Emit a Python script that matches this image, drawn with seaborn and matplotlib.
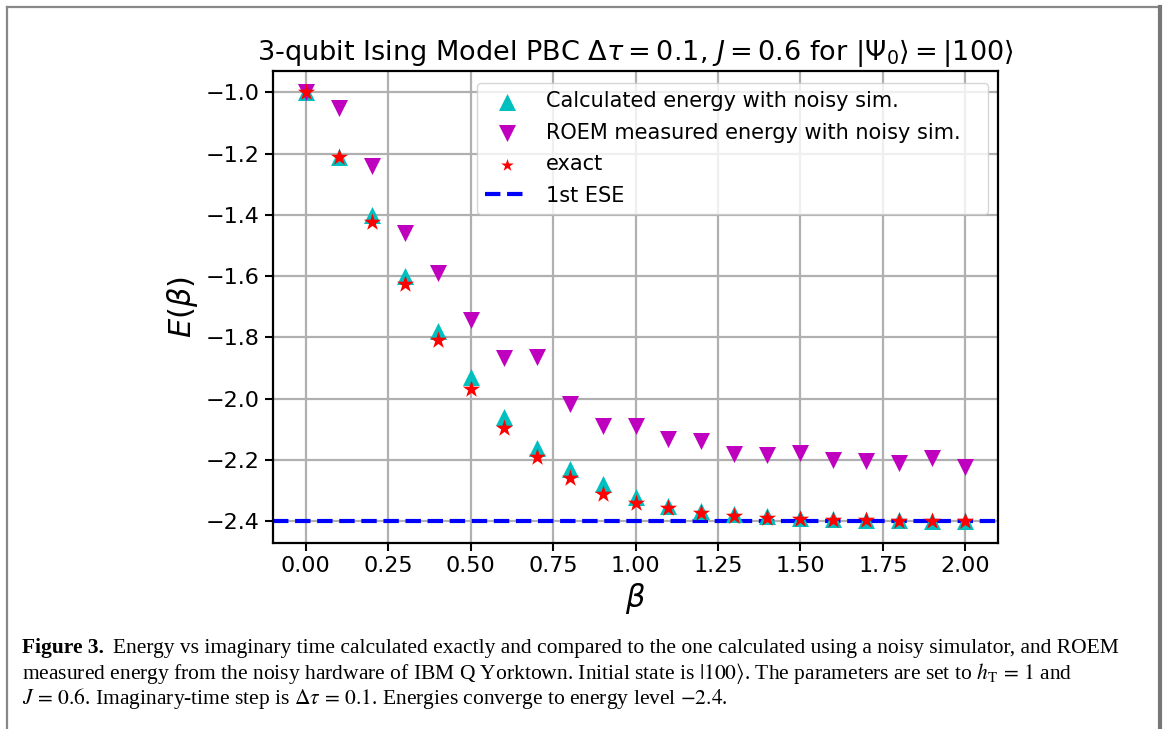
import numpy as np
import pandas as pd
import matplotlib
matplotlib.use("Agg")
import matplotlib.pyplot as plt
import seaborn as sns
from matplotlib.lines import Line2D

# -----------------------
# Data
# -----------------------
beta = [0.0, 0.1, 0.2, 0.3, 0.4, 0.5, 0.6, 0.7, 0.8, 0.9, 1.0,
        1.1, 1.2, 1.3, 1.4, 1.5, 1.6, 1.7, 1.8, 1.9, 2.0]
calc_noisy = [-1.00, -1.21, -1.40, -1.60, -1.78, -1.93, -2.06, -2.16, -2.23, -2.28, -2.32,
              -2.35, -2.365, -2.377, -2.383, -2.39, -2.394, -2.395, -2.397, -2.398, -2.399]
roem = [-1.00, -1.05, -1.24, -1.458, -1.59, -1.744, -1.866, -1.863, -2.018, -2.088, -2.09,
        -2.133, -2.137, -2.18, -2.184, -2.176, -2.20, -2.204, -2.209, -2.194, -2.223]
exact = [-1.00, -1.21, -1.423, -1.624, -1.809, -1.967, -2.097, -2.19, -2.26, -2.31, -2.34,
         -2.358, -2.372, -2.383, -2.388, -2.393, -2.395, -2.397, -2.398, -2.399, -2.399]
ese_level = -2.4

df = pd.DataFrame({"beta": beta, "calc": calc_noisy, "roem": roem, "exact": exact})

# -----------------------
# Figure
# -----------------------
plt.rcParams["font.family"] = ["DejaVu Sans"]
fig = plt.figure(figsize=(11.65, 7.29), dpi=100)
ax = fig.add_axes([0.234, 0.2556, 0.623, 0.647])
ax.set_axisbelow(True)
ax.grid(True, color="#b0b0b0", linewidth=1.6)

sns.scatterplot(data=df, x="beta", y="calc", marker="^", color="c", s=150,
                linewidth=0, label="Calculated energy with noisy sim.", ax=ax, zorder=3)
sns.scatterplot(data=df, x="beta", y="roem", marker="v", color="m", s=150,
                linewidth=0, label="ROEM measured energy with noisy sim.", ax=ax, zorder=3)
sns.scatterplot(data=df, x="beta", y="exact", marker="*", color="r", s=170,
                linewidth=0, label="exact", ax=ax, zorder=4)
ax.axhline(ese_level, color="b", linestyle="--", linewidth=3, label="1st ESE", zorder=2)

ax.set_xlim(-0.1, 2.1)
ax.set_ylim(-2.47, -0.93)
ax.set_xticks(np.arange(0, 2.01, 0.25))
ax.set_yticks(np.arange(-2.4, -0.99, 0.2))
ax.tick_params(labelsize=16, width=1.5, length=6)
for s in ax.spines.values():
    s.set_linewidth(1.6)

ax.set_title(r"3-qubit Ising Model PBC $\Delta\tau = 0.1$, $J = 0.6$ for $|\Psi_0\rangle = |100\rangle$",
             fontsize=19.5, pad=8)
ax.set_xlabel(r"$\beta$", fontsize=22)
ax.set_ylabel(r"$E(\beta)$", fontsize=22)

leg = ax.legend(loc="upper left", bbox_to_anchor=(0.2814, 0.6947, 0.7039, 0.28),
                mode="expand", borderaxespad=0, fontsize=15, labelspacing=0.55,
                handlelength=2.1)
# smaller star in the legend, as in the original
leg.legend_handles[2].set_sizes([90])

# -----------------------
# Page frame + caption
# -----------------------
fig.add_artist(Line2D([7 / 1165, 7 / 1165], [0, 1 - 7 / 729], color="#888888", lw=1.6))
fig.add_artist(Line2D([7 / 1165, 1160 / 1165], [1 - 7 / 729, 1 - 7 / 729], color="#888888", lw=1.6))
fig.add_artist(Line2D([1160 / 1165, 1160 / 1165], [0, 1 - 7 / 729], color="#777777", lw=3))

cap_font = ["Liberation Serif", "DejaVu Serif"]
cap_size = 15.5
x0 = 22 / 1165
t1 = fig.text(x0, 1 - 653 / 729, "Figure 3.", family=cap_font, fontsize=cap_size,
              weight="bold", va="baseline")
fig.canvas.draw()
w1 = t1.get_window_extent().width / fig.bbox.width
fig.text(x0 + w1 + 9 / 1165, 1 - 653 / 729,
         "Energy vs imaginary time calculated exactly and compared to the one calculated using a noisy simulator, and ROEM",
         family=cap_font, fontsize=cap_size, va="baseline", math_fontfamily="stix")
fig.text(x0, 1 - 679 / 729,
         r"measured energy from the noisy hardware of IBM Q Yorktown. Initial state is $|100\rangle$. The parameters are set to $h_{\mathrm{T}}\, =\, 1$ and",
         family=cap_font, fontsize=cap_size, va="baseline", math_fontfamily="stix")
fig.text(x0, 1 - 704 / 729,
         r"$J\, =\, 0.6$. Imaginary-time step is $\Delta\tau\, =\, 0.1$. Energies converge to energy level $-2.4$.",
         family=cap_font, fontsize=cap_size, va="baseline", math_fontfamily="stix")

fig.savefig("out.png", dpi=100)
